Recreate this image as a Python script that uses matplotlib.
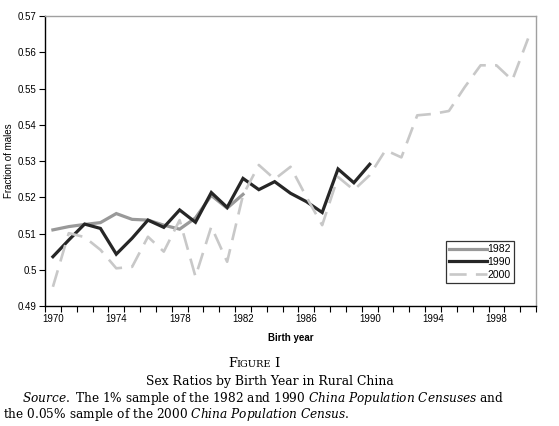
import numpy as np
import matplotlib
matplotlib.use('Agg')
import matplotlib.pyplot as plt

# sex ratio by birth year
years_1982 = list(range(1970, 1983))
ratio_1982 = [0.5110, 0.5119, 0.5125, 0.5130, 0.5155, 0.5139, 0.5137,
              0.5123, 0.5112, 0.5143, 0.5205, 0.5170, 0.5208]

years_1990 = list(range(1970, 1991))
ratio_1990 = [0.5036, 0.5082, 0.5126, 0.5114, 0.5043, 0.5087, 0.5137,
              0.5117, 0.5165, 0.5131, 0.5213, 0.5172, 0.5252, 0.5221,
              0.5243, 0.5211, 0.5188, 0.5158, 0.5278, 0.5240, 0.5291]

years_2000 = list(range(1970, 2001))
ratio_2000 = [0.4953, 0.5101, 0.5090, 0.5055, 0.5004, 0.5008, 0.5091,
              0.5050, 0.5137, 0.4981, 0.5119, 0.5022, 0.5206, 0.5289,
              0.5250, 0.5284, 0.5201, 0.5123, 0.5256, 0.5220, 0.5261,
              0.5330, 0.5310, 0.5426, 0.5430, 0.5438, 0.5504, 0.5564,
              0.5564, 0.5523, 0.5638]

tick_years = [1970, 1974, 1978, 1982, 1986, 1990, 1994, 1998]

plt.rcParams['font.family'] = ['Liberation Sans', 'DejaVu Sans']
plt.rcParams['mathtext.fontset'] = 'dejavuserif'

fig = plt.figure(figsize=(5.59, 4.26), dpi=100)
ax = fig.add_axes([0.0805, 0.2817, 0.8784, 0.6807])

ax.plot(years_1982, ratio_1982, color='#999999', lw=2.3, label='1982',
        solid_joinstyle='miter', zorder=2)
ax.plot(years_1990, ratio_1990, color='#262626', lw=2.3, label='1990',
        solid_joinstyle='miter', zorder=3)
ax.plot(years_2000, ratio_2000, color='#c8c8c8', lw=1.9, label='2000',
        dashes=(6.5, 3.5), zorder=4)

ax.set_xlim(1969.5, 2000.5)
ax.set_ylim(0.49, 0.57)
ax.set_yticks(np.arange(0.49, 0.5701, 0.01))
ax.set_yticklabels(['0.49', '0.5', '0.51', '0.52', '0.53', '0.54',
                    '0.55', '0.56', '0.57'])
ax.set_xticks(tick_years)
ax.set_xticklabels([str(y) for y in tick_years])
ax.set_xticks(np.arange(1969.5, 2001, 1.0), minor=True)
ax.tick_params(axis='x', which='major', length=0, labelsize=7, pad=6)
ax.tick_params(axis='x', which='minor', length=4, width=0.8, direction='out')
ax.tick_params(axis='y', length=4, width=0.8, labelsize=7, pad=2)

for s in ['top', 'right']:
    ax.spines[s].set_color('#a0a0a0')
    ax.spines[s].set_linewidth(1.0)
for s in ['left', 'bottom']:
    ax.spines[s].set_color('black')
    ax.spines[s].set_linewidth(1.0)

ax.set_ylabel('Fraction of males', fontsize=7, labelpad=3)
ax.set_xlabel('Birth year', fontsize=7, fontweight='bold', labelpad=6)

leg = ax.legend(loc='lower right', bbox_to_anchor=(0.955, 0.08), fontsize=7.5,
                frameon=True, fancybox=False, handlelength=3.6,
                handletextpad=0.05, borderpad=0.3, labelspacing=0.25,
                borderaxespad=0.0)
leg.get_frame().set_edgecolor('black')
leg.get_frame().set_linewidth(0.9)

# caption below the chart, serif like the journal page
serif = ['DejaVu Serif']
fig.canvas.draw()
renderer = fig.canvas.get_renderer()
cy = 1 - 367 / 426
x = 228 / 559
for piece, size in [('F', 9.3), ('IGURE', 7), (' I', 9.3)]:
    t = fig.text(x, cy, piece, fontsize=size, family=serif,
                 ha='left', va='baseline')
    bb = t.get_window_extent(renderer)
    x = bb.x1 / fig.bbox.width
fig.text(0.483, 1 - 385 / 426, 'Sex Ratios by Birth Year in Rural China',
         fontsize=8.9, family=serif, ha='center', va='baseline')
fig.text(0.04, 1 - 402 / 426,
         r'$\it{Source.}$ The 1% sample of the 1982 and 1990 '
         r'$\it{China\ Population\ Censuses}$ and',
         fontsize=8.7, family=serif, ha='left', va='baseline')
fig.text(0.005, 1 - 418 / 426,
         r'the 0.05% sample of the 2000 $\it{China\ Population\ Census.}$',
         fontsize=8.7, family=serif, ha='left', va='baseline')

fig.savefig('out.png', dpi=100)
